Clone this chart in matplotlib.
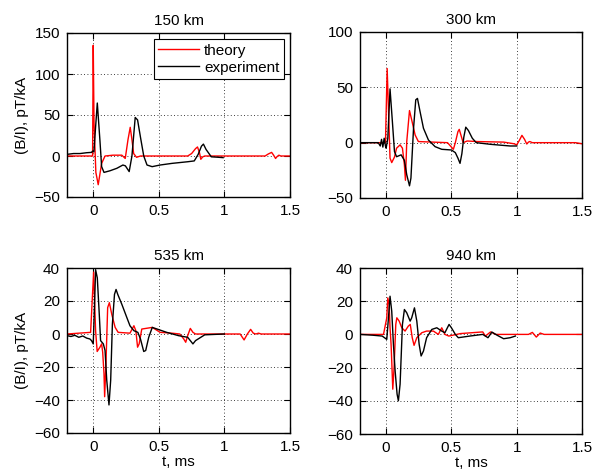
import matplotlib
matplotlib.use("Agg")
import matplotlib.pyplot as plt

plt.rcParams["font.family"] = ["Liberation Sans", "DejaVu Sans"]
plt.rcParams["font.size"] = 11

# waveforms: (t in ms, B/I in pT/kA)
t_th_150 = [-0.2, -0.005, 0.0, 0.006, 0.02, 0.038, 0.064, 0.09, 0.15, 0.218, 0.244, 0.265, 0.282,
            0.295, 0.308, 0.33, 0.36, 0.72, 0.75, 0.78, 0.795, 0.81, 0.82, 0.835, 0.85,
            1.31, 1.335, 1.36, 1.375, 1.39, 1.40, 1.415, 1.43, 1.5]
b_th_150 = [0, 0, 135, 40, -20, -35, -9, 0, 1, 1, -3, 20, 35,
            20, 3, -1.6, 0, 0, 3, 9, 11, 4, -4, -1, 0,
            0, 2.5, 4.4, 1, -3, -1, 1, 0, 0]
t_ex_150 = [-0.2, -0.15, -0.1, -0.05, -0.013, -0.005, 0.005, 0.02, 0.031, 0.051, 0.064, 0.082, 0.128,
            0.18, 0.226, 0.245, 0.274, 0.295, 0.32, 0.338, 0.36, 0.385, 0.41, 0.449, 0.51, 0.6,
            0.72, 0.77, 0.8, 0.825, 0.84, 0.86, 0.9, 0.95, 0.99]
b_ex_150 = [2, 3, 3, 4, 4.4, 6, 5, 40, 64.6, 19, -13, -20, -18,
            -15, -11, -12, -19, 0, 47, 44, 23, 0, -11, -13, -11, -9,
            -7, -6, 2, 12, 14.5, 8, -1, -1.5, -2]

t_th_300 = [-0.2, -0.005, 0.008, 0.03, 0.043, 0.064, 0.08, 0.107, 0.125, 0.14, 0.148, 0.158, 0.179,
            0.196, 0.222, 0.247, 0.47, 0.5, 0.515, 0.53, 0.55, 0.56, 0.575, 0.59, 0.62, 0.7,
            0.9, 0.98, 1.0, 1.02, 1.04, 1.06, 1.077, 1.09, 1.1, 1.12, 1.45, 1.5]
b_th_300 = [0, 0, 67, -14, -18, -13, -5, -2, -5, -20, -34, 1, 29,
            20.5, 7, 1, 0, -4, -6, 0, 10, 12, 6, 0, 1.5, 1,
            0.5, -1, -2, 2, 6.6, 3, -1.2, 0.5, 1, 0, 0, -1]
t_ex_300 = [-0.2, -0.06, -0.045, -0.035, -0.025, -0.015, -0.005, 0.0, 0.013, 0.03, 0.048, 0.064,
            0.08, 0.115, 0.14, 0.158, 0.179, 0.19, 0.21, 0.227, 0.24, 0.26, 0.286, 0.324, 0.375,
            0.426, 0.5, 0.53, 0.55, 0.566, 0.58, 0.595, 0.61, 0.63, 0.66, 0.69, 0.8, 0.95, 1.0]
b_ex_300 = [0, 0, -3, 3, -4, 4, -3, -5, 4, 48.6, 19, -8,
            -12.7, -11, -16, -29, -39, -32, 13, 38.7, 40, 28, 13, 2.4, -3.6,
            -6, -6.6, -9, -14, -18.7, -10, 5, 14, 11, 4, 0, -1.5, -3, -3]

t_th_535 = [-0.2, -0.02, 0.003, 0.018, 0.03, 0.051, 0.064, 0.072, 0.082, 0.087, 0.097, 0.11, 0.123,
            0.141, 0.167, 0.19, 0.28, 0.31, 0.325, 0.338, 0.35, 0.37, 0.45, 0.51, 0.6, 0.66,
            0.69, 0.705, 0.72, 0.74, 0.76, 0.78, 1.12, 1.15, 1.175, 1.2, 1.22, 1.24, 1.26, 1.28, 1.5]
b_th_535 = [0, 1, 37.5, 2, -10.6, -8, -6, -11, -24, -38, -18, 16, 19,
            12, 4, 1, 0.5, 5, 2, -8, -6, 3, 4, 1, 0.5, 0,
            -3, -5, -1, 3.4, 1, 0, 0, -3.6, 0, 2.8, 0.5, 0, 0.5, 0, 0]
t_ex_535 = [-0.2, -0.17, -0.14, -0.11, -0.08, -0.05, -0.026, -0.013, 0.0, 0.01, 0.018, 0.031, 0.046,
            0.056, 0.077, 0.09, 0.103, 0.12, 0.133, 0.146, 0.162, 0.174, 0.187, 0.218, 0.256,
            0.28, 0.31, 0.34, 0.36, 0.385, 0.4, 0.423, 0.45, 0.487, 0.56, 0.65, 0.72, 0.74,
            0.76, 0.78, 0.85, 1.0]
b_ex_535 = [-1, -1.5, -0.8, -2, -1.2, -2.5, -3, -4, -6, 18, 39, 34, 12,
            -4, -6, -10, -28, -43, -28, 6, 24, 27, 24, 18, 10,
            5, 2, 1, -3, -10.6, -10, -2, 4, 3, 1, -1, -2, -4,
            -6, -4, -0.5, 0]

t_th_940 = [-0.2, -0.02, 0.005, 0.013, 0.023, 0.03, 0.038, 0.043, 0.051, 0.061, 0.074, 0.082, 0.1,
            0.12, 0.145, 0.17, 0.185, 0.2, 0.214, 0.235, 0.273, 0.31, 0.362, 0.4, 0.426, 0.45,
            0.48, 0.57, 0.74, 0.76, 0.8, 0.84, 1.09, 1.12, 1.15, 1.18, 1.21, 1.5]
b_th_940 = [0, 0, 10, 22, 18, 4, -6, -16, -33, -20, 6, 10, 8,
            4, 2, 5, 6, -2, -6.6, -2, 1, 2, 2, 0, 4, 0,
            -1, 0.5, 1.5, -1, 1.5, 0, 0, 1.2, -1.6, 0.8, 0, 0]
t_ex_940 = [-0.2, -0.1, -0.03, 0.005, 0.018, 0.03, 0.043, 0.056, 0.069, 0.084, 0.094, 0.107, 0.125,
            0.14, 0.158, 0.184, 0.196, 0.217, 0.235, 0.253, 0.268, 0.286, 0.31, 0.35, 0.388,
            0.426, 0.45, 0.482, 0.5, 0.53, 0.553, 0.64, 0.74, 0.78, 0.81, 0.85, 0.9, 0.95, 0.99]
b_ex_940 = [0, -0.5, -1, -3, 10, 23, 14, -6, -22, -36, -40, -30, 6,
            15, 13, 8, 10, 16, 8, -6, -13, -10, -2, 3, 4,
            2, 1, 6, 4, 0, -2, -1, 0, -2, 1.4, -0.5, -2.6, -2, -1]

titles = ["150 km", "300 km", "535 km", "940 km"]
theory = [(t_th_150, b_th_150), (t_th_300, b_th_300), (t_th_535, b_th_535), (t_th_940, b_th_940)]
experiment = [(t_ex_150, b_ex_150), (t_ex_300, b_ex_300), (t_ex_535, b_ex_535), (t_ex_940, b_ex_940)]
ylims = [(-50, 150), (-50, 100), (-60, 40), (-60, 40)]
ysteps = [50, 50, 20, 20]

W, H = 602, 475
# axes boxes in pixels: left, right, top, bottom
boxes = [(67, 290, 33, 197), (360, 582, 32, 198), (67, 290, 268, 433), (360, 582, 268, 434)]

fig = plt.figure(figsize=(W / 100, H / 100), dpi=100)
for i, (l, r, t, b) in enumerate(boxes):
    ax = fig.add_axes([l / W, (H - b) / H, (r - l) / W, (b - t) / H])
    ax.plot(*theory[i], color="red", lw=1.0, label="theory")
    ax.plot(*experiment[i], color="black", lw=1.0, label="experiment")
    ax.set_xlim(-0.2, 1.5)
    ax.set_ylim(*ylims[i])
    ax.set_xticks([0, 0.5, 1, 1.5])
    ax.set_xticklabels(["0", "0.5", "1", "1.5"])
    lo, hi = ylims[i]
    ax.set_yticks(list(range(lo, hi + 1, ysteps[i])))
    ax.set_yticklabels([str(v).replace("-", "\u2212") for v in range(lo, hi + 1, ysteps[i])])
    ax.grid(True, color="black", linestyle=(0, (1, 3)), linewidth=0.6)
    ax.tick_params(direction="in", length=4, width=0.8, labelsize=11, pad=5, top=True, right=True)
    for s in ax.spines.values():
        s.set_linewidth(1.0)
    ax.set_title(titles[i], fontsize=11, pad=6)
    if i % 2 == 0:
        ax.set_ylabel("(B/I), pT/kA", fontsize=11)
    if i >= 2:
        ax.set_xlabel("t, ms", fontsize=11, labelpad=1)
    if i == 0:
        leg = ax.legend(loc="upper right", fancybox=False, framealpha=1, edgecolor="black",
                        handlelength=2.7, borderpad=0.3, labelspacing=0.2, handletextpad=0.3,
                        borderaxespad=0.4, fontsize=11)
        leg.get_frame().set_linewidth(0.8)

fig.savefig("out.png", dpi=100)
